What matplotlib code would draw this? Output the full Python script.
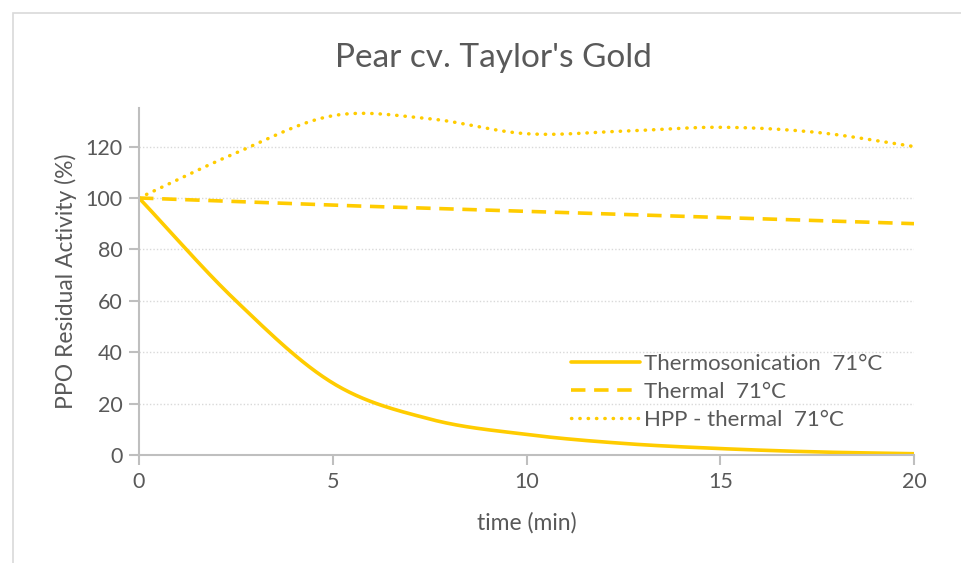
import numpy as np
import matplotlib.pyplot as plt
from matplotlib.patches import Rectangle

# (Excel smoothed lines)
time_min = [0, 2.5, 5, 7.5, 10, 12.5, 15, 17.5, 20]
thermosonication = [100, 60, 28, 14, 8, 4.5, 2.5, 1.2, 0.5]
thermal = [100, 98.6, 97.2, 96, 94.8, 93.6, 92.4, 91.2, 90]
hpp_thermal = [100, 117.5, 132, 130.8, 125, 126, 127.5, 125.5, 120]
labels = ["Thermosonication  71°C", "Thermal  71°C", "HPP - thermal  71°C"]
x_ticks = [0, 5, 10, 15, 20]
y_ticks = [0, 20, 40, 60, 80, 100, 120]

GOLD = "#FFCC00"
TXT = "#595959"
AXC = "#BFBFBF"

plt.rcParams['font.family'] = ['Lato', 'DejaVu Sans']


def smooth(x, y, n=30):
    # Catmull-Rom like Excel's smoothed line
    x = np.asarray(x, float)
    y = np.asarray(y, float)
    px = np.concatenate([[2 * x[0] - x[1]], x, [2 * x[-1] - x[-2]]])
    py = np.concatenate([[2 * y[0] - y[1]], y, [2 * y[-1] - y[-2]]])
    xs, ys = [], []
    t = np.linspace(0, 1, n)
    for i in range(1, len(px) - 2):
        for p, out in ((px, xs), (py, ys)):
            p0, p1, p2, p3 = p[i - 1], p[i], p[i + 1], p[i + 2]
            out.extend(0.5 * ((2 * p1) + (-p0 + p2) * t
                              + (2 * p0 - 5 * p1 + 4 * p2 - p3) * t ** 2
                              + (-p0 + 3 * p1 - 3 * p2 + p3) * t ** 3))
    return xs, ys


fig = plt.figure(figsize=(9.62, 5.63), dpi=100)
fig.patches.append(Rectangle((13 / 962, -0.1), 1.2, 1 - 13 / 563 + 0.1,
                             transform=fig.transFigure, fill=False,
                             edgecolor="#D9D9D9", lw=1.2))
ax = fig.add_axes([139 / 962, 1 - 455 / 563, (914 - 139) / 962, (455 - 108) / 563])

ax.plot(*smooth(time_min, thermosonication), color=GOLD, lw=2.6, label=labels[0],
        solid_capstyle="round")
ax.plot(*smooth(time_min, thermal), color=GOLD, lw=2.6, ls=(0, (4, 2.4)), label=labels[1])
ax.plot(*smooth(time_min, hpp_thermal), color=GOLD, lw=2.5, ls=(0, (0.1, 2.3)),
        dash_capstyle="round", label=labels[2])

ax.set_xlim(0, 20)
ax.set_ylim(0, 135)
ax.set_xticks(x_ticks)
ax.set_yticks(y_ticks)
ax.grid(axis="y", color="#D9D9D9", ls=(0, (1, 1.5)), lw=1)
ax.set_axisbelow(True)
for s in ["top", "right"]:
    ax.spines[s].set_visible(False)
for s in ["left", "bottom"]:
    ax.spines[s].set_color(AXC)
    ax.spines[s].set_linewidth(1.5)
ax.tick_params(colors=AXC, labelcolor=TXT, labelsize=15.5, length=7, width=1.5)
ax.tick_params(axis="x", pad=5)
ax.tick_params(axis="y", pad=5)
ax.margins(0)

ax.set_xlabel("time (min)", fontsize=16.5, color=TXT, labelpad=15)
ax.set_ylabel("PPO Residual Activity (%)", fontsize=16.5, color=TXT, labelpad=6)
fig.text(493 / 962, 1 - 58 / 563, "Pear cv. Taylor's Gold", fontsize=24,
         color=TXT, ha="center", va="center")

leg = ax.legend(loc="upper left", bbox_to_anchor=(0.546, 0.318), frameon=False,
                fontsize=16, labelcolor=TXT, handlelength=3.1, handletextpad=0.2,
                labelspacing=0.36, borderaxespad=0)

fig.savefig("out.png", dpi=100)
